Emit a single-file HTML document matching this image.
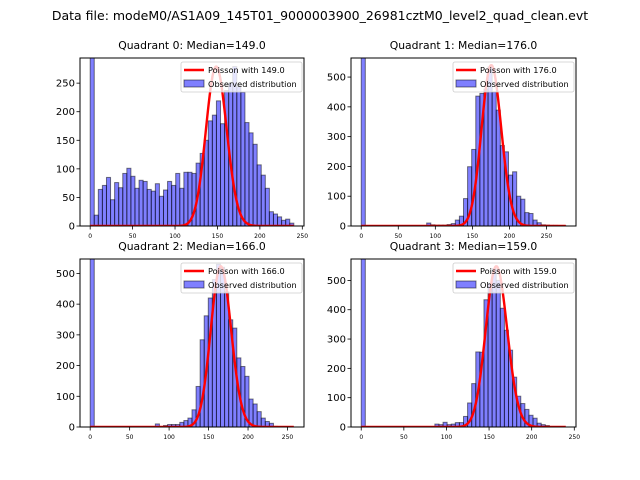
<!DOCTYPE html>
<html><head><meta charset="utf-8"><style>
body{margin:0;background:#fff}
svg{display:block;font-family:"DejaVu Sans","Liberation Sans",sans-serif}
</style></head><body>
<svg id="chart" width="640" height="480" viewBox="0 0 640 480" xmlns="http://www.w3.org/2000/svg">
<rect width="640" height="480" fill="#fff"/>
<text x="320" y="20" text-anchor="middle" font-size="12.5">Data file: modeM0/AS1A09_145T01_9000003900_26981cztM0_level2_quad_clean.evt</text>
</svg>
<script>
const q0Counts=[1500,19,64,71,85,46,76,67,92,101,87,66,80,78,64,61,74,52,63,78,71,92,66,94,94,92,110,127,150,184,194,219,179,237,250,279,244,234,181,163,143,107,89,66,25,21,16,10,12,5];
const q1Counts=[1500,0,0,0,0,0,0,0,0,0,0,0,0,0,0,0,10,4,3,3,3,5,8,20,33,92,199,257,436,445,460,534,450,389,270,249,171,182,100,90,45,42,20,11,4,3,2,2,1,1];
const q2Counts=[1500,0,0,0,0,0,0,0,0,0,0,0,0,0,0,0,10,0,5,8,8,8,15,21,29,56,132,284,362,420,480,530,520,440,349,322,225,197,165,91,75,50,29,18,12,2,0,0,0,0];
const q3Counts=[1500,0,0,0,0,0,0,0,0,0,0,0,0,0,0,0,0,0,10,8,16,8,10,15,15,36,82,148,256,255,434,490,540,500,405,330,262,170,105,80,60,40,30,13,8,5,0,0,0,0];
const dataMax=[240,276,258,240];
const medians=[149.0,176.0,166.0,159.0];
const poissonPeak=[279,540,523,548];
const yMax=[294,564,547,573];
const yTicks=[[0,50,100,150,200,250],[0,100,200,300,400,500],[0,100,200,300,400,500],[0,100,200,300,400,500]];
const xTicks=[0,50,100,150,200,250];
const allCounts=[q0Counts,q1Counts,q2Counts,q3Counts];

const NS="http://www.w3.org/2000/svg";
const svg=document.getElementById('chart');
function mk(tag,attrs,parent){const e=document.createElementNS(NS,tag);for(const k in attrs)e.setAttribute(k,attrs[k]);(parent||svg).appendChild(e);return e;}
const boxes=[[80,58,304,226],[351,58,576,226],[80,259,304,427],[351,259,576,427]];
function lgamma(n){let s=0;for(let i=2;i<=n;i++)s+=Math.log(i);return s;}

for(let p=0;p<4;p++){
  const [L,T,R,B]=boxes[p];
  const mx=dataMax[p];
  const x0=-0.05*mx,x1=1.05*mx;
  const X=v=>L+(v-x0)/(x1-x0)*(R-L);
  const Y=v=>B-v/yMax[p]*(B-T);
  const g=mk('g',{});
  
  
  const clipId='clip'+p;
  const cp=mk('clipPath',{id:clipId},g);mk('rect',{x:L,y:T,width:R-L,height:B-T},cp);
  const plot=mk('g',{'clip-path':'url(#'+clipId+')'},g);
  const counts=allCounts[p];
  const bw=mx/counts.length;
  counts.forEach((c,i)=>{
    if(c<=0)return;
    const r=mk('rect',{x:X(i*bw),y:Y(c),width:X((i+1)*bw)-X(i*bw),height:B-Y(c),fill:'rgba(0,0,255,0.5)',stroke:'rgba(0,0,0,0.5)','stroke-width':1},plot);
    
    
  });
  const lam=medians[p];
  const peakPmf=Math.exp(Math.floor(lam)*Math.log(lam)-lam-lgamma(Math.floor(lam)));
  let pts=[];
  for(let k=0;k<=Math.round(mx);k++){
    const pmf=Math.exp(k*Math.log(lam||1)-lam-lgamma(k));
    pts.push(X(k).toFixed(2)+','+Y(pmf/peakPmf*poissonPeak[p]).toFixed(2));
  }
  const pl=mk('polyline',{points:pts.join(' '),fill:'none',stroke:'#ff0000','stroke-width':2.4,'stroke-linejoin':'round'},plot);
  
  
  const fr=mk('rect',{x:L,y:T,width:R-L,height:B-T,fill:'none',stroke:'#000','stroke-width':1},g);
  
  
  yTicks[p].forEach(t=>{
    const y=Y(t);
    mk('line',{x1:L-3.5,x2:L,y1:y,y2:y,stroke:'#000','stroke-width':0.8},g);
    const tx=mk('text',{x:L-5,y:y+3.5,'text-anchor':'end','font-size':10},g);
    tx.textContent=t;
    
    
  });
  xTicks.forEach(t=>{
    const x=X(t);
    mk('line',{x1:x,x2:x,y1:B,y2:B+3.5,stroke:'#000','stroke-width':0.8},g);
    const tx=mk('text',{x:x,y:B+12,'text-anchor':'middle','font-size':6},g);
    tx.textContent=t;
    
    
  });
  const ti=mk('text',{x:(L+R)/2,y:T-9,'text-anchor':'middle','font-size':10.8},g);
  ti.textContent='Quadrant '+p+': Median='+medians[p].toFixed(1);
  
  
  const lg=mk('g',{},g);
  
  
  const lx=R-123,ly=T+4;
  mk('rect',{x:lx,y:ly,width:121,height:30,rx:2,fill:'rgba(255,255,255,0.8)',stroke:'#ccc','stroke-width':0.8},lg);
  mk('line',{x1:lx+3,x2:lx+23,y1:ly+8,y2:ly+8,stroke:'#ff0000','stroke-width':2.4},lg);
  const t1=mk('text',{x:lx+27,y:ly+11,'font-size':8.2},lg);t1.textContent='Poisson with '+medians[p].toFixed(1);
  mk('rect',{x:lx+3,y:ly+18,width:20,height:7,fill:'rgba(0,0,255,0.5)',stroke:'rgba(0,0,0,0.5)','stroke-width':1},lg);
  const t2=mk('text',{x:lx+27,y:ly+25,'font-size':8.2},lg);t2.textContent='Observed distribution';
}
</script>
</body></html>
